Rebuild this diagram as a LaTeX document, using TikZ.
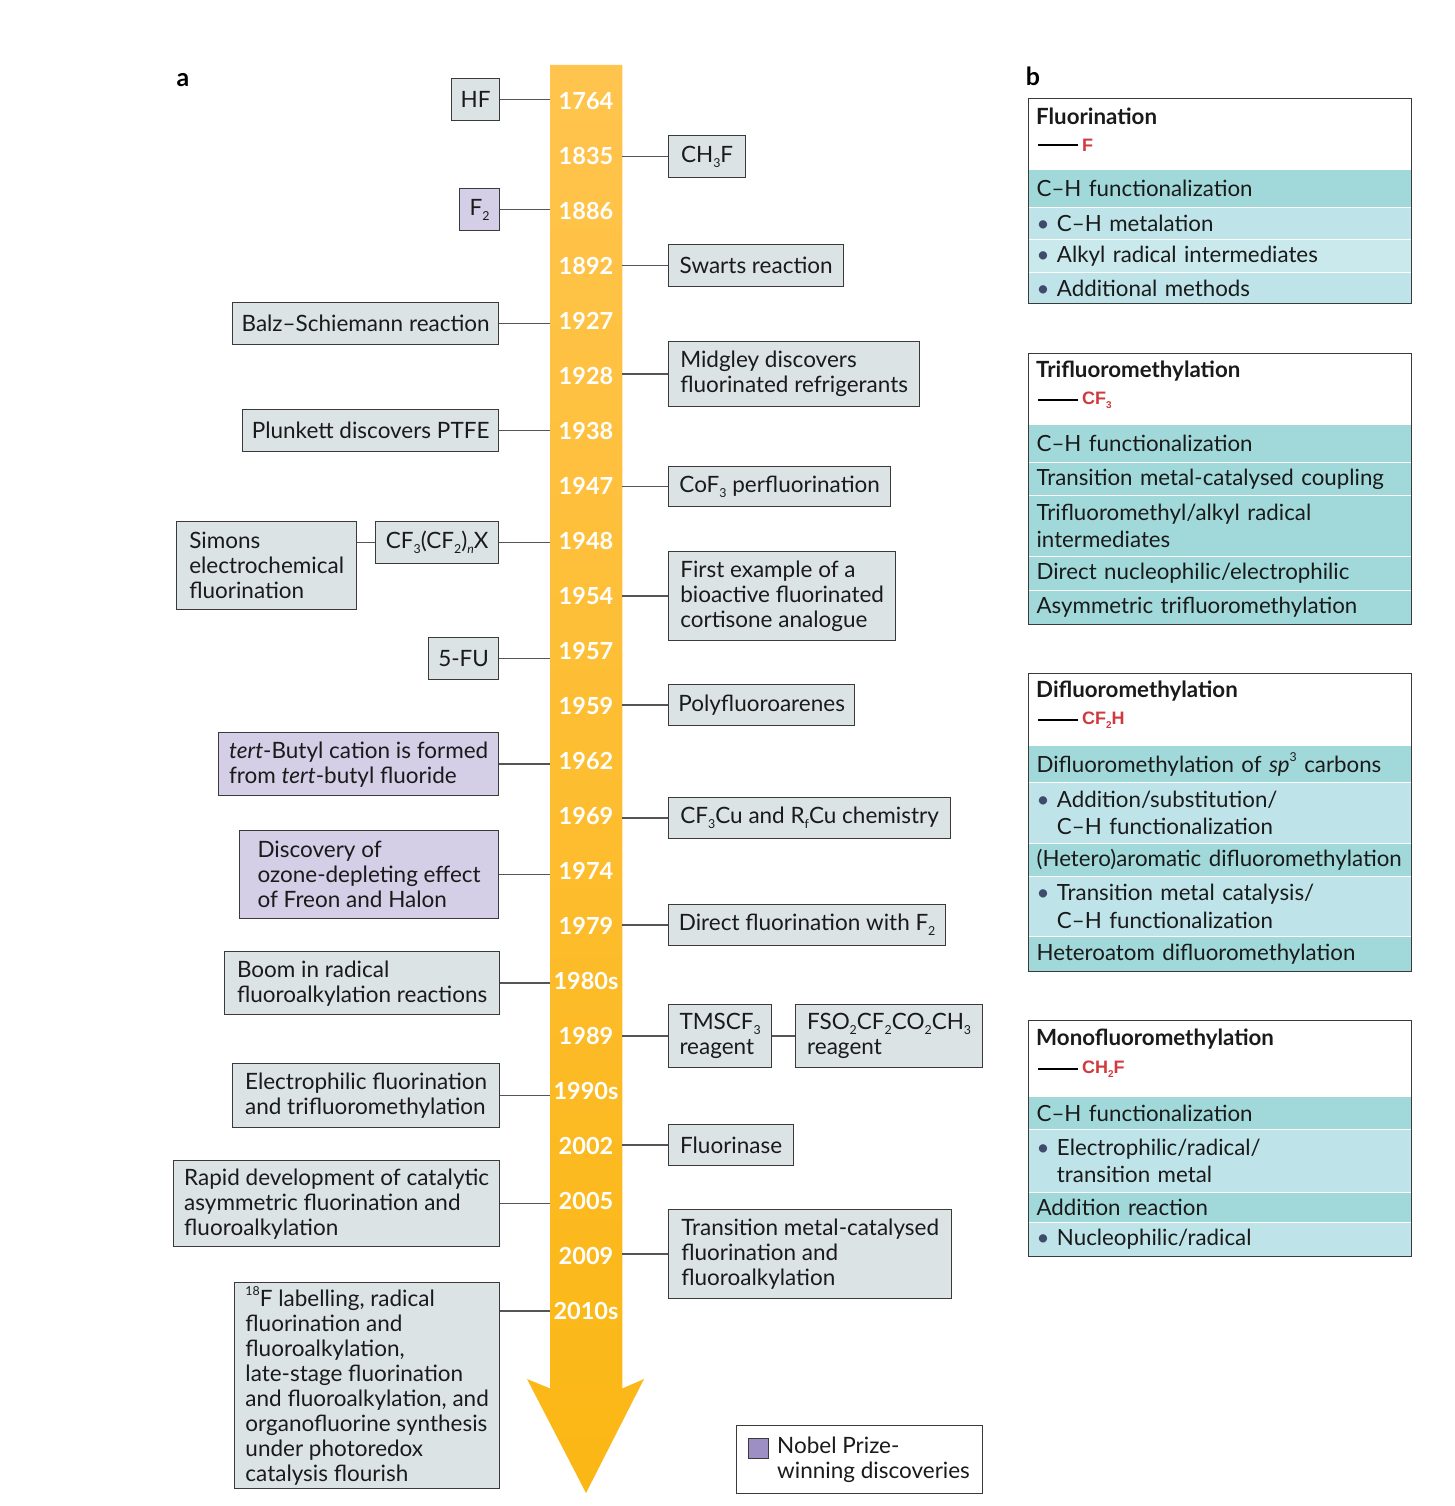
\documentclass[tikz,border=0pt]{standalone}
\usepackage{fontspec}
\setmainfont{Lato}
\newfontfamily\arialf{Liberation Sans}
\definecolor{boxfill}{HTML}{DCE3E5}
\definecolor{nobel}{HTML}{D4CEE6}
\definecolor{nobelsw}{HTML}{9D8EC4}
\definecolor{edge}{HTML}{3A3A3A}
\definecolor{linec}{HTML}{555555}
\definecolor{txt}{HTML}{1A1A1A}
\definecolor{arrtop}{HTML}{FFC44E}
\definecolor{arrbot}{HTML}{FBB714}
\definecolor{tdark}{HTML}{A1D9DA}
\definecolor{tlight}{HTML}{BEE3E8}
\definecolor{tlighter}{HTML}{C9E9EC}
\definecolor{redc}{HTML}{D0393E}
\definecolor{bul}{HTML}{3F4B6B}
\newcommand\fs{\fontsize{22.5}{25}\selectfont}
\newcommand\fsb{\fontsize{22.3}{27.5}\selectfont}
\newcommand\sbs[1]{\raisebox{-0.22em}{\scalebox{0.55}{#1}}}
\newcommand\sps[1]{\raisebox{0.5em}{\scalebox{0.55}{#1}}}
\newcommand\bu{{\color{bul}\textbullet}\ }
\newcommand\bi{\phantom{\textbullet\ }}
\tikzset{
  every node/.style={text=txt},
  wh/.style 2 args={minimum width=#1, minimum height=#2},
  lbox/.style={draw=edge, fill=boxfill, line width=1.3pt, anchor=north west, align=left, inner sep=0pt, font=\fs},
  nob/.style={lbox, fill=nobel},
  conn/.style={draw=linec, line width=1.5pt},
  yr/.style={text=white, font=\fontsize{23.5}{25}\selectfont\bfseries, inner sep=0pt},
  prow/.style={anchor=north west, draw=white, line width=1.2pt, minimum width=383, inner xsep=8pt, inner ysep=0pt, text width=367pt, align=left, font=\fsb},
  rd/.style={prow, fill=tdark},
  rl/.style={prow, fill=tlight},
  rll/.style={prow, fill=tlighter},
  pbox/.style={draw=edge, line width=1.3pt, anchor=north west, inner sep=0pt},
  ttl/.style={anchor=west, inner sep=0pt, font=\fsb\bfseries},
  grp/.style={anchor=west, inner sep=0pt, text=redc, font=\arialf\fontsize{18}{20}\selectfont\bfseries},
  gline/.style={draw=black, line width=1.2pt},
  plab/.style={inner sep=0pt, font=\fontsize{25}{26}\selectfont\bfseries, text=black}
}
\begin{document}
\begin{tikzpicture}[x=1pt,y=-1pt]
\useasboundingbox (0,0) rectangle (1454,1506);
% panel labels
\node[plab] (pa) at (183,80) {a};
\node[plab] (pb) at (1033,76) {b};
% arrow
\node[minimum width=72, minimum height=1323, anchor=north west, inner sep=0pt] (shaft) at (550,65) {};
\shade[top color=arrtop, bottom color=arrbot] (shaft.north west) -- (shaft.north east) -- (shaft.south east) -- (644,1379) -- (586,1493) -- (527,1379) -- (shaft.south west) -- cycle;
\foreach \yy/\lab in {100/1764,155/1835,210/1886,265/1892,320/1927,375/1928,430/1938,485/1947,540/1948,595/1954,650/1957,705/1959,760/1962,815/1969,870/1974,925/1979,980/1980s,1035/1989,1090/1990s,1145/2002,1200/2005,1255/2009,1310/2010s}
  \node[yr] (y\lab) at (586,\yy+1) {\lab};
% left boxes
\node[lbox, wh={48}{42}] (hf) at (451,78) {HF};
\node[nob, wh={40}{42}] (f2) at (459,188) {F\sbs{2}};
\node[lbox, wh={266}{42}] (balz) at (232,302) {Balz–Schiemann reaction};
\node[lbox, wh={256}{42}] (plunk) at (242,409) {Plunkett discovers PTFE};
\node[lbox, wh={180}{88}] (simons) at (176,521) {Simons\\electrochemical\\fluorination};
\node[lbox, wh={123}{42}] (cfx) at (375,521) {CF\sbs{3}(CF\sbs{2})\sbs{\textit{n}}X};
\node[lbox, wh={70}{42}] (fu) at (428,637) {5-FU};
\node[nob, wh={280}{63}] (tert) at (218,732) {\textit{tert}-Butyl cation is formed\\from \textit{tert}-butyl fluoride};
\node[nob, wh={259}{88}] (ozone) at (239,830) {Discovery of\\ozone-depleting effect\\of Freon and Halon};
\node[lbox, wh={275}{63}] (boom) at (224,951) {Boom in radical\\fluoroalkylation reactions};
\node[lbox, wh={267}{64}] (elec) at (232,1063) {Electrophilic fluorination\\and trifluoromethylation};
\node[lbox, wh={326}{86}] (rapid) at (173,1160) {Rapid development of catalytic\\asymmetric fluorination and\\fluoroalkylation};
\node[lbox, wh={265}{206}] (label18) at (234,1282) {\sps{18}F labelling, radical\\fluorination and\\fluoroalkylation,\\late-stage fluorination\\and fluoroalkylation, and\\organofluorine synthesis\\under photoredox\\catalysis flourish};
% right boxes
\node[lbox, wh={77}{42}] (ch3f) at (668,135) {CH\sbs{3}F};
\node[lbox, wh={175}{42}] (swarts) at (668,244) {Swarts reaction};
\node[lbox, wh={251}{65}] (midg) at (668,341) {Midgley discovers\\fluorinated refrigerants};
\node[lbox, wh={222}{40}] (cof) at (668,466) {CoF\sbs{3} perfluorination};
\node[lbox, wh={227}{89}] (first) at (668,551) {First example of a\\bioactive fluorinated\\cortisone analogue};
\node[lbox, wh={186}{41}] (poly) at (668,684) {Polyfluoroarenes};
\node[lbox, wh={282}{41}] (cucu) at (668,797) {CF\sbs{3}Cu and R\sbs{f}Cu chemistry};
\node[lbox, wh={277}{41}] (direct) at (668,904) {Direct fluorination with F\sbs{2}};
\node[lbox, wh={103}{63}] (tms) at (668,1004) {TMSCF\sbs{3}\\reagent};
\node[lbox, wh={187}{63}] (fso) at (795,1004) {FSO\sbs{2}CF\sbs{2}CO\sbs{2}CH\sbs{3}\\reagent};
\node[lbox, wh={125}{41}] (fluorinase) at (668,1124) {Fluorinase};
\node[lbox, wh={283}{89}] (trans) at (668,1209) {Transition metal-catalysed\\fluorination and\\fluoroalkylation};
% connectors
\foreach \b in {hf,f2,balz,plunk,cfx,fu,tert,ozone,boom,elec,rapid}
  \draw[conn] (\b.east) -- (\b.east -| shaft.west);
\foreach \b in {ch3f,swarts,midg,cof,first,poly,cucu,direct,tms,fluorinase,trans}
  \draw[conn] (\b.west) -- (\b.west -| shaft.east);
\draw[conn] (simons.east |- cfx.west) -- (cfx.west);
\draw[conn] (tms.east) -- (fso.west);
\draw[conn] (label18.east |- y2010s) -- (y2010s -| shaft.west);
% legend
\node[lbox, fill=white, wh={246}{68}] (leg) at (736,1425) {};
\node[draw=edge, fill=nobelsw, line width=1pt, minimum size=20, inner sep=0pt, anchor=north west] (sw) at (748,1438) {};
\node[anchor=west, align=left, inner sep=0pt, font=\fs] (legt) at (777,1460) {Nobel Prize-\\winning discoveries};
% panel b : fluorination
\node[rd, minimum height=38] (f1) at (1028,169) {C–H functionalization};
\node[rl, minimum height=32] (f2r) at (1028,207) {\bu C–H metalation};
\node[rll, minimum height=33] (f3) at (1028,239) {\bu Alkyl radical intermediates};
\node[rl, minimum height=31] (f4) at (1028,272) {\bu Additional methods};
\node[pbox, wh={383}{205}] (fbox) at (1028,98) {};
\node[ttl] (fT) at (1036,116) {Fluorination};
\coordinate (fL) at (1038,145);
\node[grp] (fG) at (1082,145) {F};
\draw[gline] (fL) -- ([xshift=-4pt]fG.west);
% trifluoromethylation
\node[rd, minimum height=38] (t1) at (1028,424) {C–H functionalization};
\node[rd, minimum height=33] (t2) at (1028,462) {Transition metal-catalysed coupling};
\node[rd, minimum height=61] (t3) at (1028,495) {Trifluoromethyl/alkyl radical\\intermediates};
\node[rd, minimum height=34] (t4) at (1028,556) {Direct nucleophilic/electrophilic};
\node[rd, minimum height=34] (t5) at (1028,590) {Asymmetric trifluoromethylation};
\node[pbox, wh={383}{271}] (tbox) at (1028,353) {};
\node[ttl] (tT) at (1036,371) {Trifluoromethylation};
\coordinate (tL) at (1038,400);
\node[grp] (tG) at (1082,400) {CF\sbs{3}};
\draw[gline] (tL) -- ([xshift=-4pt]tG.west);
% difluoromethylation
\node[rd, minimum height=37] (d1) at (1028,745) {Difluoromethylation of \textit{sp}\sps{3} carbons};
\node[rl, minimum height=61] (d2) at (1028,782) {\bu Addition/substitution/\\\bi C–H functionalization};
\node[rd, minimum height=33] (d3) at (1028,843) {\mbox{(Hetero)aromatic difluoromethylation}};
\node[rl, minimum height=60] (d4) at (1028,876) {\bu Transition metal catalysis/\\\bi C–H functionalization};
\node[rd, minimum height=35] (d5) at (1028,936) {Heteroatom difluoromethylation};
\node[pbox, wh={383}{298}] (dbox) at (1028,673) {};
\node[ttl] (dT) at (1036,691) {Difluoromethylation};
\coordinate (dL) at (1038,720);
\node[grp] (dG) at (1082,720) {CF\sbs{2}H};
\draw[gline] (dL) -- ([xshift=-4pt]dG.west);
% monofluoromethylation
\node[rd, minimum height=33] (m1) at (1028,1096) {C–H functionalization};
\node[rl, minimum height=63] (m2) at (1028,1129) {\bu Electrophilic/radical/\\\bi transition metal};
\node[rd, minimum height=30] (m3) at (1028,1192) {Addition reaction};
\node[rl, minimum height=34] (m4) at (1028,1222) {\bu Nucleophilic/radical};
\node[pbox, wh={383}{236}] (mbox) at (1028,1020) {};
\node[ttl] (mT) at (1036,1039) {Monofluoromethylation};
\coordinate (mL) at (1038,1069);
\node[grp] (mG) at (1082,1069) {CH\sbs{2}F};
\draw[gline] (mL) -- ([xshift=-4pt]mG.west);
\end{tikzpicture}
\end{document}
